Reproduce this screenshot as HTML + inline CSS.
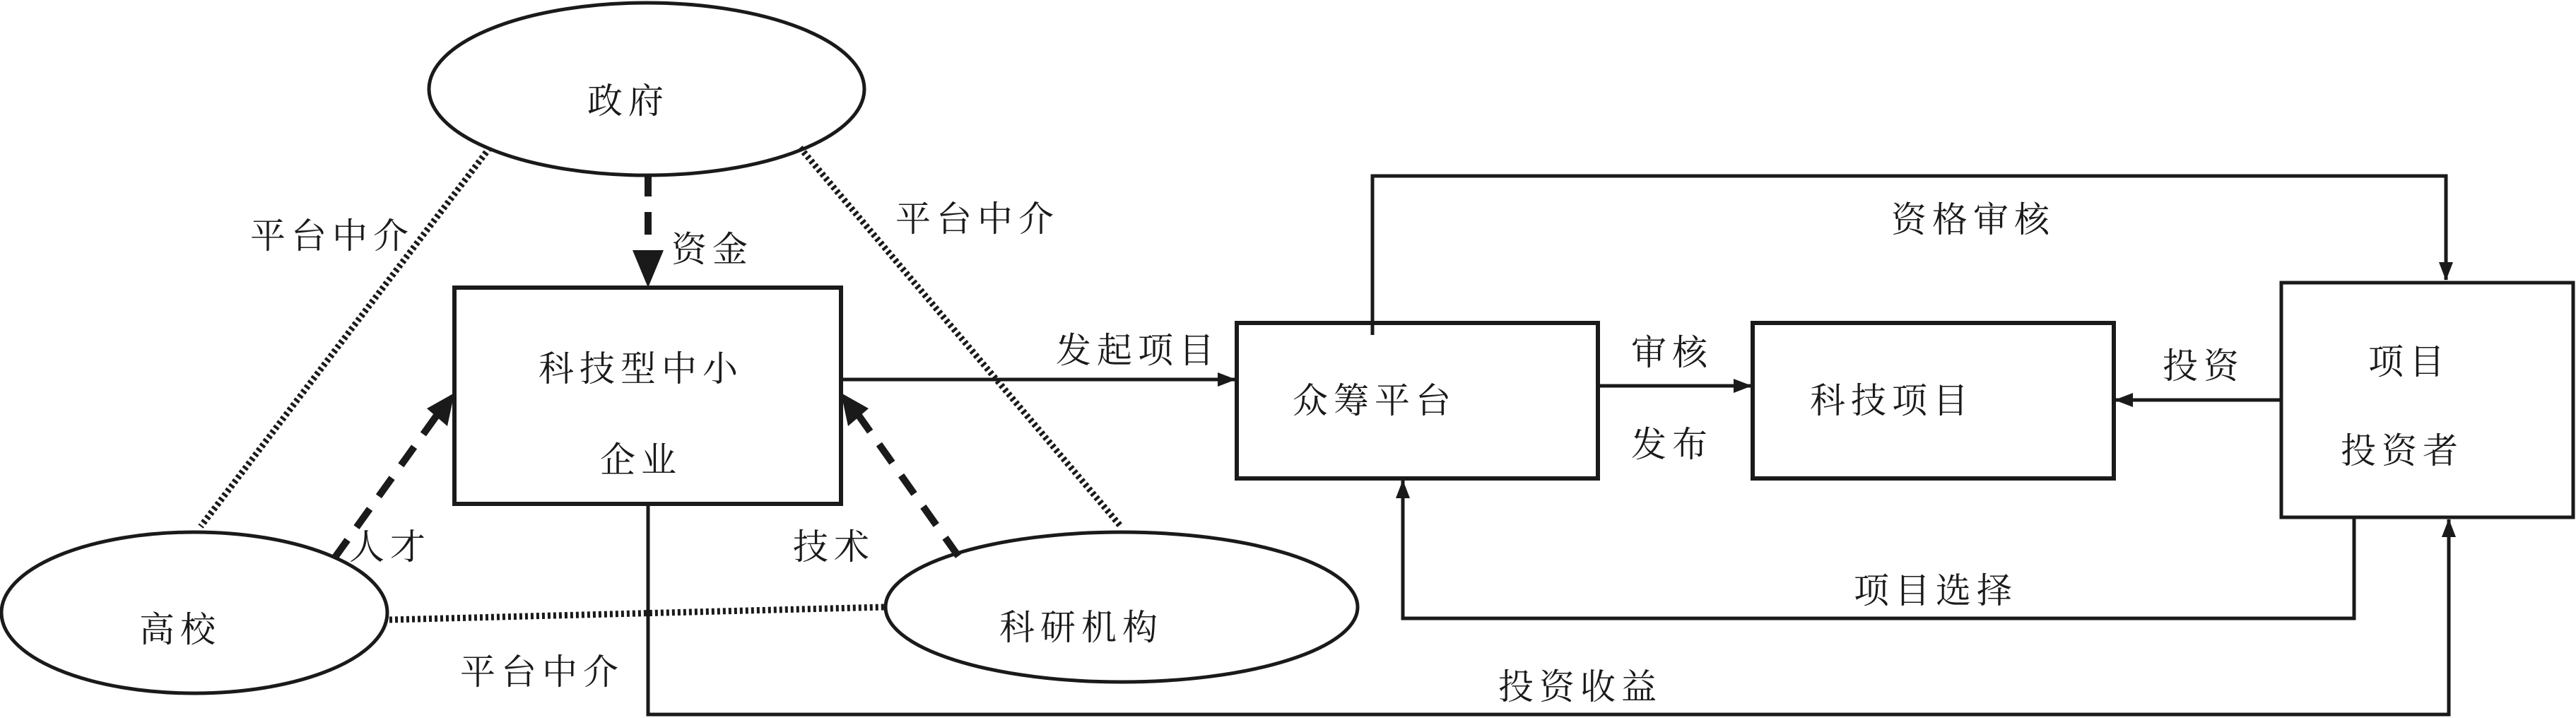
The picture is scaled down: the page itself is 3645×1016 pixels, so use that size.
<!DOCTYPE html>
<html><head><meta charset="utf-8"><style>
html,body{margin:0;padding:0;background:#fff;}
svg{display:block;}
text{font-family:"Liberation Serif","Noto Serif CJK SC",serif;font-size:50px;fill:#1a1a1a;text-anchor:middle;dominant-baseline:central;letter-spacing:8px;}
</style></head><body>
<svg width="3645" height="1016" viewBox="0 0 3645 1016" xmlns="http://www.w3.org/2000/svg">
<defs>
<marker id="a" markerWidth="26" markerHeight="20" refX="25" refY="10" orient="auto" markerUnits="userSpaceOnUse" viewBox="0 0 26 20">
<path d="M0,0 L26,10 L0,20 z" fill="#1a1a1a"/></marker>
</defs>
<g fill="none" stroke="#1a1a1a">
<ellipse cx="915" cy="126" rx="308" ry="122" stroke-width="5"/>
<ellipse cx="275" cy="867" rx="273" ry="114" stroke-width="5"/>
<ellipse cx="1587" cy="859" rx="334" ry="106" stroke-width="5"/>
<rect x="643" y="407" width="547" height="306" stroke-width="6"/>
<rect x="1750" y="457" width="511" height="220" stroke-width="6"/>
<rect x="2480" y="457" width="511" height="220" stroke-width="6"/>
<rect x="3228" y="400" width="413" height="332" stroke-width="5"/>
<g stroke-width="9" stroke-dasharray="4 4">
<line x1="693" y1="209" x2="284" y2="745"/>
<line x1="1132" y1="209" x2="1586" y2="745"/>
<line x1="551" y1="877" x2="1252" y2="859"/>
</g>
<g stroke-width="10" stroke-dasharray="32 22">
<line x1="917" y1="246" x2="917" y2="360"/>
<line x1="473" y1="790" x2="620" y2="585"/>
<line x1="1356" y1="787" x2="1213" y2="585"/>
</g>
<g stroke-width="5">
<line x1="1190" y1="537" x2="1748" y2="537" marker-end="url(#a)"/>
<line x1="2261" y1="546" x2="2478" y2="546" marker-end="url(#a)"/>
<line x1="3228" y1="566" x2="2993" y2="566" marker-end="url(#a)"/>
<polyline points="1942,474 1942,249 3461,249 3461,396" marker-end="url(#a)"/>
<polyline points="3331,732 3331,875 1985,875 1985,680" marker-end="url(#a)"/>
<polyline points="917,713 917,1011 3465,1011 3465,735" marker-end="url(#a)"/>
</g>
</g>
<g fill="#1a1a1a">
<path d="M895,354 L939,354 L917,407 z"/>
<path d="M643,556 L604,578 L633,603 z"/>
<path d="M1190,556 L1229,578 L1200,603 z"/>
</g>
<text x="889" y="143">政府</text>
<text x="255" y="891">高校</text>
<text x="1530" y="888">科研机构</text>
<text x="907" y="522">科技型中小</text>
<text x="907" y="651">企业</text>
<text x="1945" y="567">众筹平台</text>
<text x="2677" y="567">科技项目</text>
<text x="3409" y="512">项目</text>
<text x="3399" y="638">投资者</text>
<text x="470" y="334">平台中介</text>
<text x="1383" y="310">平台中介</text>
<text x="767" y="951">平台中介</text>
<text x="1008" y="353">资金</text>
<text x="552" y="774">人才</text>
<text x="1180" y="774">技术</text>
<text x="1610" y="496">发起项目</text>
<text x="2366" y="499">审核</text>
<text x="2366" y="629">发布</text>
<text x="3118" y="518">投资</text>
<text x="2792" y="311">资格审核</text>
<text x="2739" y="836">项目选择</text>
<text x="2236" y="972">投资收益</text>
</svg>
</body></html>
